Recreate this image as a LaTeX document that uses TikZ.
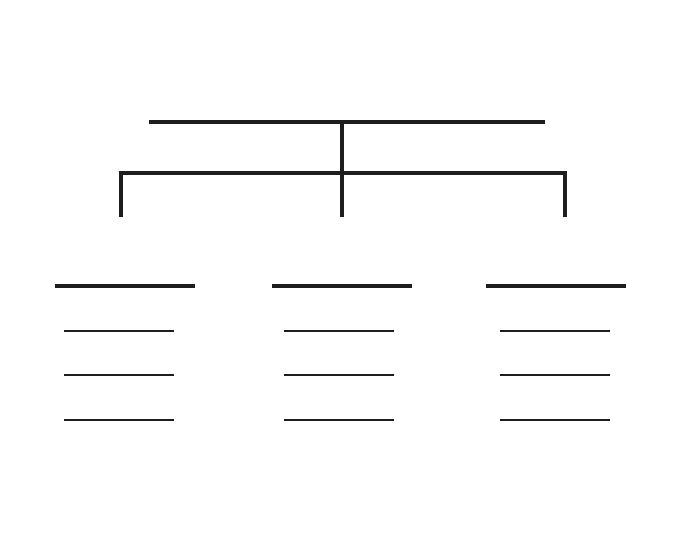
\documentclass[tikz,border=0pt]{standalone}
\definecolor{ink}{RGB}{30,30,30}
\begin{document}
\begin{tikzpicture}[x=1pt,y=-1pt,
  thickline/.style={draw=ink,line width=4.5pt},
  thinline/.style={draw=ink,line width=2pt}]
\useasboundingbox (0,0) rectangle (680,548);
% top bar
\coordinate (tl) at (149,122); \coordinate (tr) at (545,122);
\coordinate (tm) at (342,122);
\draw[thickline] (tl) -- (tr);
% stem and branch bar
\coordinate (bl) at (121,173); \coordinate (br) at (565,173);
\coordinate (bm) at (342,173);
\coordinate (el) at (121,217); \coordinate (em) at (342,217); \coordinate (er) at (565,217);
\draw[thickline] (tm) -- (em);
\draw[thickline,line join=miter] (el) -- (bl) -- (br) -- (er);
% groups
\foreach \hx/\sx/\n in {55/64/a, 272/284/b, 486/500/c}{
  \coordinate (\n h1) at (\hx,286); \coordinate (\n h2) at (\hx+140,286);
  \draw[thickline] (\n h1) -- (\n h2);
  \foreach \yy/\k in {331/1,375/2,420/3}{
    \coordinate (\n s\k a) at (\sx,\yy); \coordinate (\n s\k b) at (\sx+110,\yy);
    \draw[thinline] (\n s\k a) -- (\n s\k b);
  }
}
\end{tikzpicture}
\end{document}
